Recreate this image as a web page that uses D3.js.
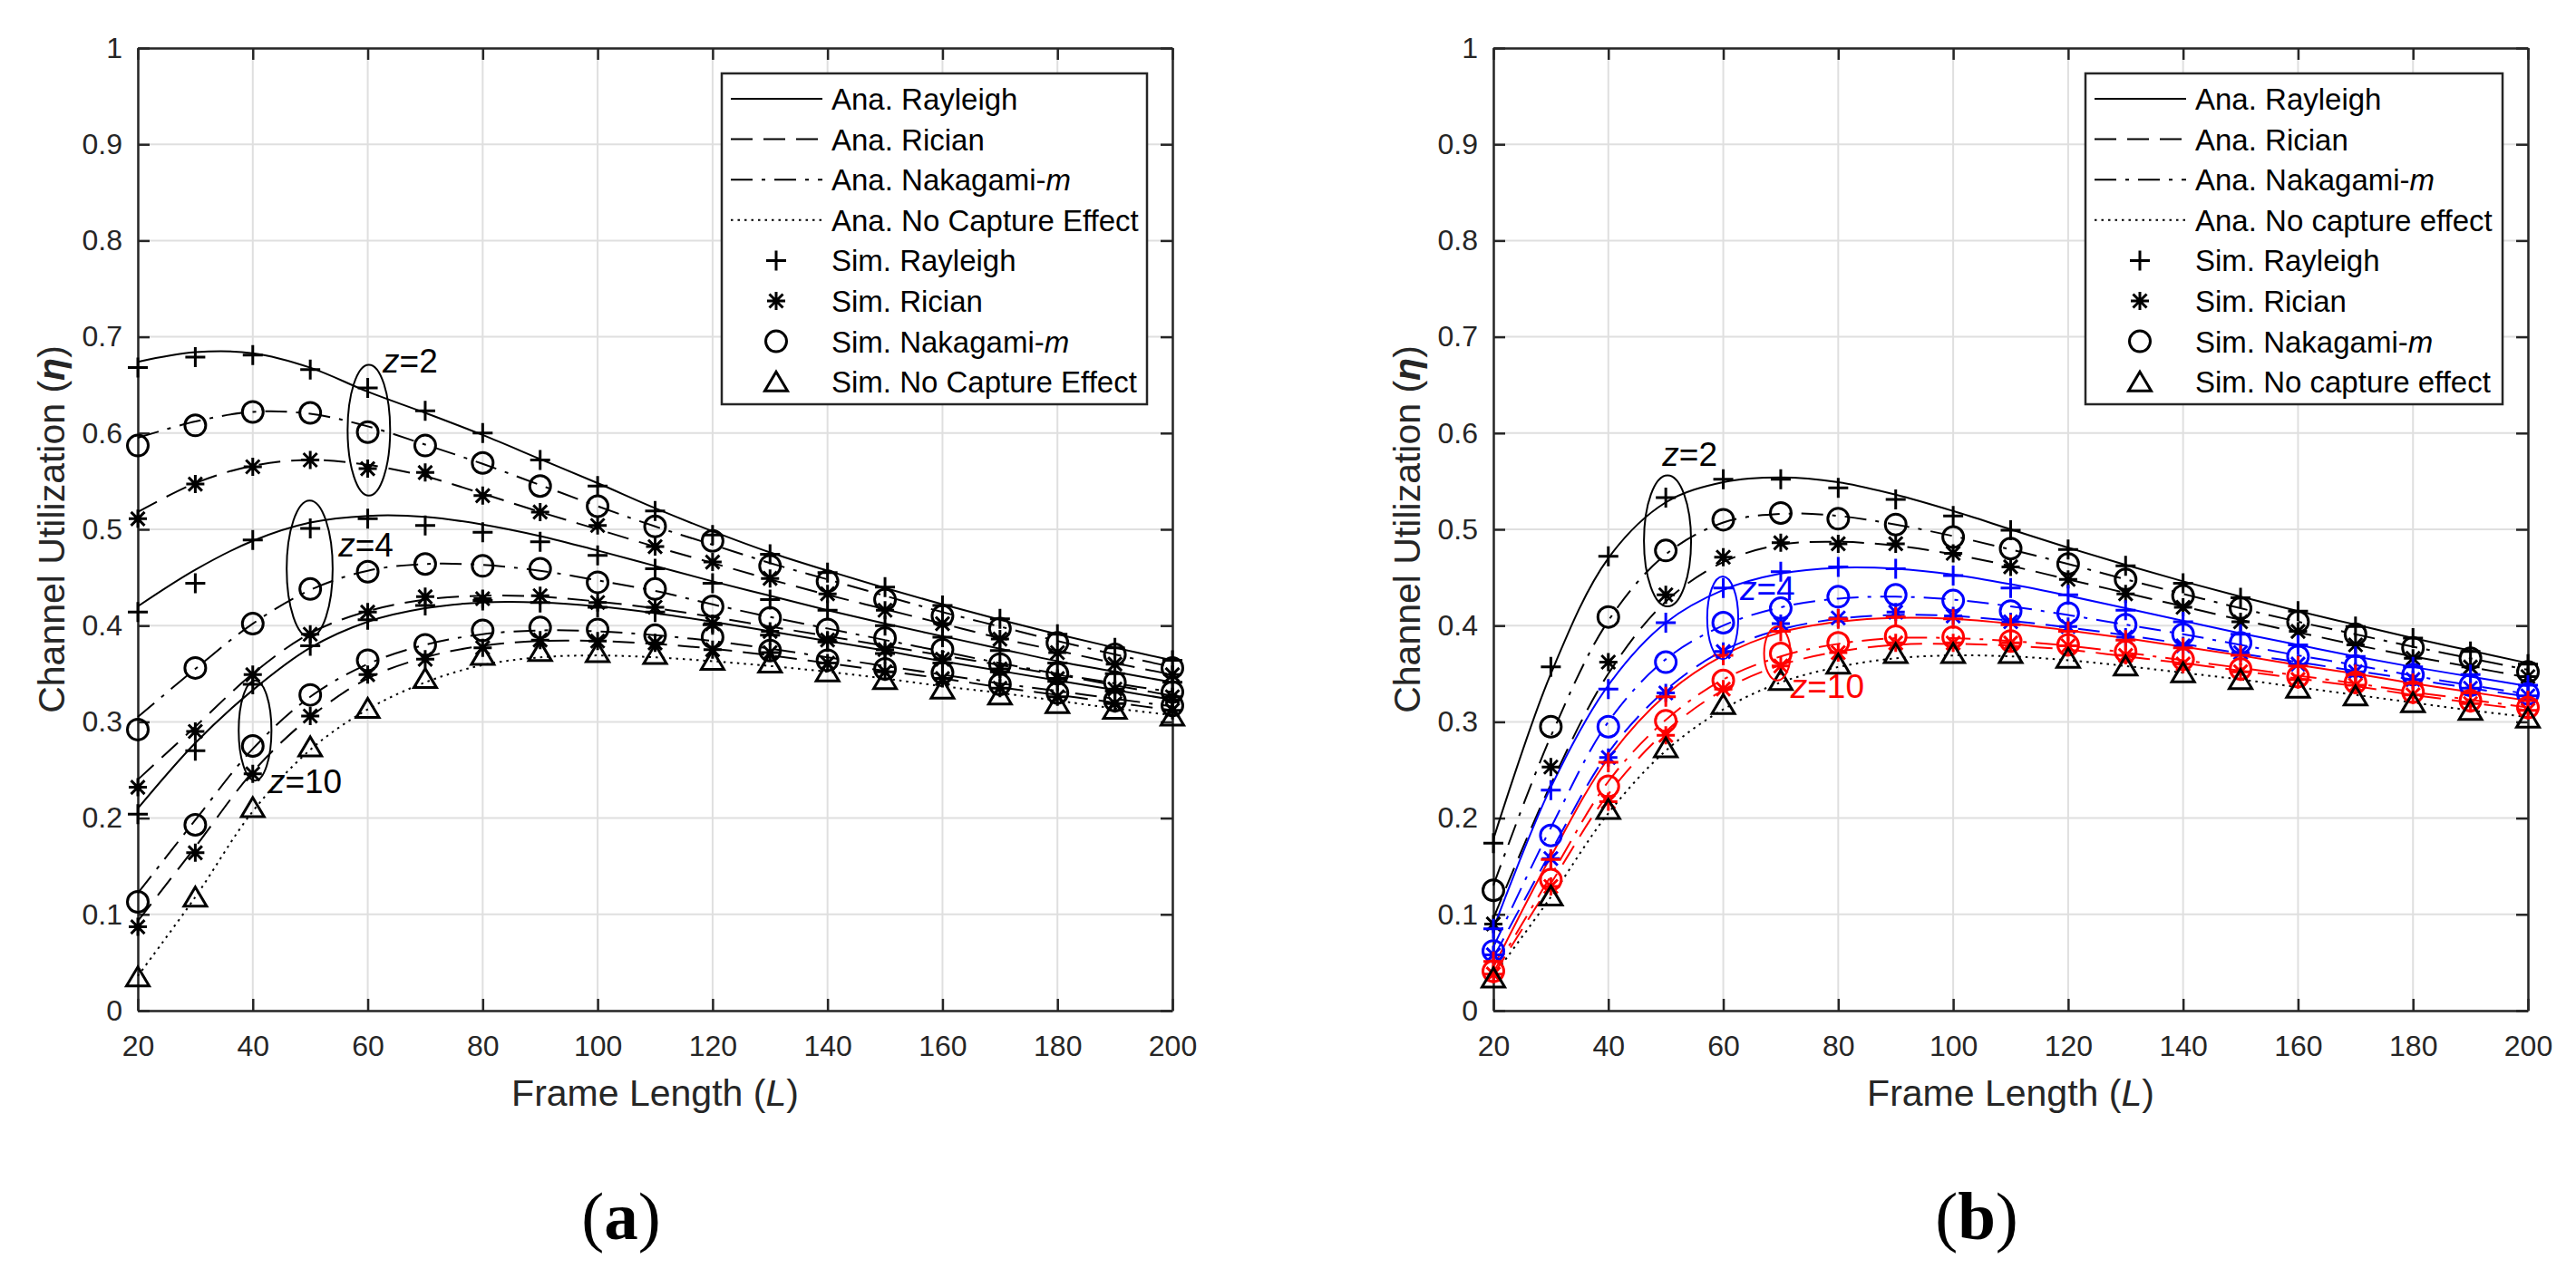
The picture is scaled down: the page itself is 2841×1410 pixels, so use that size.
<!DOCTYPE html>
<html>
<head>
<meta charset="utf-8">
<script src="https://cdn.jsdelivr.net/npm/d3@7/dist/d3.min.js"></script>
<style>
  body { margin: 0; background: #fff; }
  svg text { font-family: "Liberation Sans", Arial, Helvetica, sans-serif; }
</style>
</head>
<body>
<svg id="chart" width="2841" height="1410"></svg>
<script>
// ---- data ----
const frameLengths = [20, 30, 40, 50, 60, 70, 80, 90, 100, 110, 120, 130, 140, 150, 160, 170, 180, 190, 200];
const xTicks = [20, 40, 60, 80, 100, 120, 140, 160, 180, 200];
const yTicks = [0, 0.1, 0.2, 0.3, 0.4, 0.5, 0.6, 0.7, 0.8, 0.9, 1];

// panel (a)
const aZ2RayleighAna = [0.674, 0.684, 0.683, 0.668, 0.643, 0.621, 0.598, 0.573, 0.548, 0.522, 0.498, 0.476, 0.457, 0.439, 0.422, 0.406, 0.391, 0.377, 0.364];
const aZ2RayleighSim = [0.668, 0.679, 0.681, 0.666, 0.647, 0.623, 0.600, 0.572, 0.545, 0.519, 0.494, 0.474, 0.455, 0.440, 0.421, 0.407, 0.391, 0.377, 0.364];
const aZ2NakagamiAna = [0.595, 0.612, 0.622, 0.620, 0.607, 0.588, 0.568, 0.546, 0.524, 0.503, 0.484, 0.465, 0.448, 0.431, 0.414, 0.399, 0.384, 0.370, 0.357];
const aZ2NakagamiSim = [0.587, 0.608, 0.622, 0.621, 0.601, 0.587, 0.569, 0.545, 0.524, 0.503, 0.488, 0.462, 0.446, 0.427, 0.410, 0.397, 0.382, 0.370, 0.356];
const aZ2RicianAna = [0.518, 0.548, 0.566, 0.572, 0.567, 0.555, 0.537, 0.518, 0.500, 0.482, 0.465, 0.448, 0.432, 0.417, 0.402, 0.387, 0.374, 0.361, 0.349];
const aZ2RicianSim = [0.511, 0.547, 0.565, 0.572, 0.563, 0.559, 0.535, 0.518, 0.504, 0.482, 0.466, 0.449, 0.433, 0.416, 0.402, 0.386, 0.372, 0.360, 0.349];
const aZ4RayleighAna = [0.420, 0.458, 0.488, 0.507, 0.514, 0.513, 0.505, 0.493, 0.478, 0.462, 0.446, 0.431, 0.416, 0.402, 0.389, 0.376, 0.363, 0.352, 0.341];
const aZ4RayleighSim = [0.414, 0.444, 0.489, 0.501, 0.511, 0.504, 0.497, 0.487, 0.473, 0.459, 0.444, 0.427, 0.416, 0.400, 0.388, 0.374, 0.361, 0.350, 0.341];
const aZ4NakagamiAna = [0.305, 0.355, 0.402, 0.437, 0.457, 0.464, 0.463, 0.457, 0.447, 0.436, 0.422, 0.409, 0.397, 0.385, 0.373, 0.361, 0.350, 0.340, 0.331];
const aZ4NakagamiSim = [0.292, 0.356, 0.402, 0.438, 0.456, 0.464, 0.462, 0.459, 0.445, 0.438, 0.420, 0.408, 0.396, 0.387, 0.375, 0.360, 0.350, 0.341, 0.331];
const aZ4RicianAna = [0.240, 0.295, 0.350, 0.392, 0.415, 0.427, 0.431, 0.430, 0.425, 0.418, 0.409, 0.399, 0.389, 0.379, 0.369, 0.359, 0.349, 0.338, 0.327];
const aZ4RicianSim = [0.232, 0.290, 0.349, 0.391, 0.414, 0.430, 0.428, 0.431, 0.424, 0.419, 0.402, 0.394, 0.385, 0.375, 0.365, 0.355, 0.345, 0.334, 0.326];
const aZ10RayleighAna = [0.210, 0.278, 0.333, 0.377, 0.404, 0.418, 0.424, 0.424, 0.420, 0.413, 0.404, 0.394, 0.384, 0.374, 0.363, 0.353, 0.343, 0.333, 0.323];
const aZ10RayleighSim = [0.204, 0.270, 0.339, 0.379, 0.406, 0.421, 0.426, 0.424, 0.419, 0.414, 0.401, 0.390, 0.383, 0.371, 0.361, 0.352, 0.342, 0.332, 0.323];
const aZ10NakagamiAna = [0.122, 0.198, 0.272, 0.326, 0.360, 0.380, 0.391, 0.395, 0.394, 0.390, 0.384, 0.376, 0.367, 0.358, 0.349, 0.340, 0.332, 0.324, 0.316];
const aZ10NakagamiSim = [0.113, 0.193, 0.275, 0.328, 0.364, 0.380, 0.395, 0.398, 0.396, 0.390, 0.388, 0.374, 0.364, 0.355, 0.351, 0.339, 0.330, 0.322, 0.317];
const aZ10RicianAna = [0.093, 0.170, 0.248, 0.305, 0.345, 0.367, 0.379, 0.384, 0.384, 0.381, 0.376, 0.369, 0.361, 0.353, 0.345, 0.336, 0.328, 0.320, 0.312];
const aZ10RicianSim = [0.087, 0.164, 0.246, 0.306, 0.349, 0.365, 0.377, 0.385, 0.384, 0.382, 0.375, 0.372, 0.361, 0.352, 0.345, 0.335, 0.326, 0.319, 0.312];
const aNoCaptureAna = [0.036, 0.118, 0.207, 0.271, 0.313, 0.341, 0.359, 0.367, 0.369, 0.367, 0.363, 0.358, 0.352, 0.345, 0.337, 0.330, 0.322, 0.314, 0.307];
const aNoCaptureSim = [0.035, 0.118, 0.211, 0.274, 0.314, 0.345, 0.369, 0.373, 0.372, 0.370, 0.364, 0.361, 0.352, 0.344, 0.334, 0.328, 0.319, 0.313, 0.306];

// panel (b)
const bZ2RayleighAna = [0.178, 0.350, 0.470, 0.528, 0.549, 0.554, 0.549, 0.536, 0.519, 0.500, 0.481, 0.463, 0.446, 0.430, 0.415, 0.401, 0.387, 0.374, 0.361];
const bZ2RayleighSim = [0.174, 0.357, 0.472, 0.533, 0.552, 0.552, 0.543, 0.531, 0.514, 0.499, 0.479, 0.462, 0.444, 0.429, 0.415, 0.399, 0.387, 0.373, 0.360];
const bZ2NakagamiAna = [0.130, 0.285, 0.405, 0.474, 0.507, 0.516, 0.514, 0.505, 0.493, 0.479, 0.464, 0.448, 0.433, 0.418, 0.404, 0.391, 0.378, 0.366, 0.354];
const bZ2NakagamiSim = [0.125, 0.295, 0.409, 0.478, 0.510, 0.517, 0.511, 0.505, 0.492, 0.480, 0.464, 0.448, 0.431, 0.418, 0.404, 0.391, 0.377, 0.366, 0.352];
const bZ2RicianAna = [0.096, 0.235, 0.350, 0.425, 0.466, 0.484, 0.487, 0.483, 0.474, 0.462, 0.448, 0.434, 0.420, 0.406, 0.393, 0.380, 0.368, 0.357, 0.346];
const bZ2RicianSim = [0.090, 0.253, 0.362, 0.432, 0.471, 0.486, 0.485, 0.485, 0.475, 0.461, 0.448, 0.433, 0.419, 0.404, 0.394, 0.380, 0.366, 0.357, 0.347];
const bZ4RayleighAna = [0.085, 0.232, 0.338, 0.403, 0.437, 0.454, 0.460, 0.459, 0.453, 0.443, 0.431, 0.418, 0.405, 0.392, 0.380, 0.368, 0.357, 0.347, 0.337];
const bZ4RayleighSim = [0.085, 0.229, 0.334, 0.403, 0.439, 0.456, 0.461, 0.459, 0.452, 0.439, 0.432, 0.416, 0.404, 0.391, 0.380, 0.368, 0.357, 0.349, 0.338];
const bZ4NakagamiAna = [0.066, 0.190, 0.300, 0.365, 0.400, 0.419, 0.428, 0.430, 0.427, 0.420, 0.411, 0.401, 0.391, 0.380, 0.369, 0.359, 0.348, 0.338, 0.329];
const bZ4NakagamiSim = [0.062, 0.182, 0.295, 0.362, 0.403, 0.418, 0.430, 0.432, 0.426, 0.415, 0.413, 0.401, 0.391, 0.382, 0.368, 0.358, 0.349, 0.338, 0.329];
const bZ4RicianAna = [0.055, 0.165, 0.268, 0.333, 0.374, 0.396, 0.407, 0.411, 0.410, 0.405, 0.398, 0.390, 0.381, 0.371, 0.362, 0.353, 0.344, 0.335, 0.326];
const bZ4RicianSim = [0.058, 0.158, 0.263, 0.330, 0.373, 0.402, 0.408, 0.414, 0.410, 0.404, 0.399, 0.388, 0.379, 0.372, 0.360, 0.352, 0.344, 0.335, 0.327];
const bZ10RayleighAna = [0.045, 0.160, 0.262, 0.328, 0.369, 0.393, 0.404, 0.408, 0.407, 0.402, 0.395, 0.387, 0.378, 0.369, 0.359, 0.350, 0.340, 0.331, 0.322];
const bZ10RayleighSim = [0.051, 0.157, 0.258, 0.326, 0.369, 0.394, 0.407, 0.409, 0.407, 0.401, 0.394, 0.385, 0.377, 0.369, 0.358, 0.349, 0.340, 0.330, 0.322];
const bZ10NakagamiAna = [0.040, 0.140, 0.238, 0.302, 0.344, 0.368, 0.381, 0.387, 0.387, 0.384, 0.379, 0.372, 0.364, 0.356, 0.348, 0.340, 0.331, 0.323, 0.315];
const bZ10NakagamiSim = [0.041, 0.136, 0.233, 0.301, 0.343, 0.371, 0.382, 0.389, 0.388, 0.384, 0.380, 0.373, 0.365, 0.355, 0.347, 0.341, 0.331, 0.322, 0.315];
const bZ10RicianAna = [0.037, 0.132, 0.225, 0.290, 0.333, 0.359, 0.373, 0.380, 0.381, 0.379, 0.375, 0.368, 0.361, 0.353, 0.345, 0.337, 0.328, 0.320, 0.312];
const bZ10RicianSim = [0.038, 0.129, 0.217, 0.286, 0.334, 0.358, 0.372, 0.382, 0.382, 0.382, 0.379, 0.369, 0.360, 0.352, 0.344, 0.338, 0.328, 0.319, 0.312];
const bNoCaptureAna = [0.036, 0.118, 0.205, 0.270, 0.313, 0.341, 0.357, 0.366, 0.369, 0.368, 0.364, 0.358, 0.351, 0.344, 0.336, 0.328, 0.320, 0.312, 0.305];
const bNoCaptureSim = [0.034, 0.119, 0.209, 0.273, 0.318, 0.343, 0.360, 0.371, 0.371, 0.371, 0.366, 0.358, 0.351, 0.344, 0.335, 0.327, 0.320, 0.312, 0.304];

const legendLabelsA = ['Ana. Rayleigh', 'Ana. Rician', 'Ana. Nakagami-|m', 'Ana. No Capture Effect',
                       'Sim. Rayleigh', 'Sim. Rician', 'Sim. Nakagami-|m', 'Sim. No Capture Effect'];
const legendLabelsB = ['Ana. Rayleigh', 'Ana. Rician', 'Ana. Nakagami-|m', 'Ana. No capture effect',
                       'Sim. Rayleigh', 'Sim. Rician', 'Sim. Nakagami-|m', 'Sim. No capture effect'];

// ---- styles ----
const AXIS = '#262626';
const BLACK = '#000000', BLUE = '#0000ff', RED = '#ff0000';
const fading = {
    rayleigh: { dash: null, marker: 'plus' },
    rician: { dash: '24,12', marker: 'asterisk' },
    nakagami: { dash: '24,10,4,10', marker: 'circle' },
    none: { dash: '2.5,5', marker: 'triangle' }
};
const markerPath = {
    plus: 'M-11,0H11M0,-11V11',
    asterisk: 'M-10,0H10M0,-10V10M-7.5,-7.5L7.5,7.5M-7.5,7.5L7.5,-7.5',
    circle: d3.arc()({ innerRadius: 0, outerRadius: 11.5, startAngle: 0, endAngle: 2 * Math.PI }),
    triangle: 'M0,-11L12.5,10L-12.5,10Z'
};
const legendOrder = ['rayleigh', 'rician', 'nakagami', 'none'];

const svg = d3.select('#chart');

function richText(sel, str) {
    // "|" marks the start of an italic tail
    const parts = str.split('|');
    sel.append('tspan').text(parts[0]);
    if (parts.length > 1) {
        sel.append('tspan').attr('font-style', 'italic').text(parts[1]);
    }
}

function drawPanel(p) {
    const x = d3.scaleLinear().domain([20, 200]).range([p.left, p.left + 1141]);
    const y = d3.scaleLinear().domain([0, 1]).range([1115, 53]);
    const g = svg.append('g');

    // grid
    g.selectAll('.gx').data(xTicks).enter().append('line')
        .attr('x1', d => x(d)).attr('x2', d => x(d))
        .attr('y1', y(0)).attr('y2', y(1))
        .attr('stroke', '#dfdfdf').attr('stroke-width', 2);
    g.selectAll('.gy').data(yTicks).enter().append('line')
        .attr('x1', x(20)).attr('x2', x(200))
        .attr('y1', d => y(d)).attr('y2', d => y(d))
        .attr('stroke', '#dfdfdf').attr('stroke-width', 2);

    // axes (ticks pointing inward on all four sides)
    const yFmt = d => (d === 0 ? '0' : d === 1 ? '1' : d.toFixed(1));
    const axes = [
        g.append('g').attr('transform', `translate(0,${y(0)})`)
            .call(d3.axisBottom(x).tickValues(xTicks).tickSizeInner(-13).tickSizeOuter(0).tickPadding(27)),
        g.append('g').attr('transform', `translate(0,${y(1)})`)
            .call(d3.axisTop(x).tickValues(xTicks).tickSizeInner(-13).tickSizeOuter(0).tickFormat('')),
        g.append('g').attr('transform', `translate(${x(20)},0)`)
            .call(d3.axisLeft(y).tickValues(yTicks).tickSizeInner(-13).tickSizeOuter(0).tickPadding(17).tickFormat(yFmt)),
        g.append('g').attr('transform', `translate(${x(200)},0)`)
            .call(d3.axisRight(y).tickValues(yTicks).tickSizeInner(-13).tickSizeOuter(0).tickFormat(''))
    ];
    axes.forEach(a => {
        a.select('.domain').attr('stroke', AXIS).attr('stroke-width', 2.5);
        a.selectAll('.tick line').attr('stroke', AXIS).attr('stroke-width', 2.5);
        a.selectAll('.tick text').attr('fill', AXIS).style('font-size', '32px')
            .style('font-family', '"Liberation Sans", Arial, sans-serif');
    });

    // axis labels
    const xl = g.append('text')
        .attr('x', (x(20) + x(200)) / 2).attr('y', 1220)
        .attr('text-anchor', 'middle').attr('fill', AXIS).style('font-size', '41px');
    xl.append('tspan').text('Frame Length (');
    xl.append('tspan').attr('font-style', 'italic').text('L');
    xl.append('tspan').text(')');

    const yl = g.append('text')
        .attr('transform', `translate(${x(20) - 95},${(y(0) + y(1)) / 2}) rotate(-90)`)
        .attr('text-anchor', 'middle').attr('dy', '0.35em')
        .attr('fill', AXIS).style('font-size', '41px');
    yl.append('tspan').text('Channel Utilization (');
    yl.append('tspan').attr('font-style', 'italic').attr('font-weight', 'bold').text('\u03b7');
    yl.append('tspan').text(')');

    // analytical curves
    const line = d3.line()
        .x((d, i) => x(frameLengths[i]))
        .y(d => y(d))
        .curve(d3.curveCatmullRom.alpha(0.5));
    g.selectAll('.ana').data(p.series).enter().append('path')
        .attr('d', s => line(s.ana))
        .attr('fill', 'none')
        .attr('stroke', s => s.color)
        .attr('stroke-width', 2)
        .attr('stroke-dasharray', s => fading[s.fading].dash);

    // simulation markers
    p.series.forEach(s => {
        g.selectAll(null).data(s.sim).enter().append('path')
            .attr('transform', (d, i) => `translate(${x(frameLengths[i])},${y(d)})`)
            .attr('d', markerPath[fading[s.fading].marker])
            .attr('fill', 'none')
            .attr('stroke', s.color)
            .attr('stroke-width', 3);
    });

    // group annotations (ellipses + z labels), given in data units
    p.notes.forEach(n => {
        g.append('ellipse')
            .attr('cx', x(n.L)).attr('cy', y(n.v))
            .attr('rx', x(n.L + n.rL) - x(n.L)).attr('ry', y(n.v - n.rv) - y(n.v))
            .attr('fill', 'none').attr('stroke', n.color).attr('stroke-width', 2);
        const t = g.append('text')
            .attr('x', x(n.textL)).attr('y', y(n.textV))
            .attr('fill', n.color).style('font-size', '37px');
        t.append('tspan').attr('font-style', 'italic').text('z');
        t.append('tspan').text('=' + n.z);
    });

    // legend
    const lg = g.append('g').attr('transform', `translate(${p.legend.x},81)`);
    lg.append('rect').attr('width', p.legend.w).attr('height', 365)
        .attr('fill', '#fff').attr('stroke', AXIS).attr('stroke-width', 2.5);
    p.legendLabels.forEach((label, i) => {
        const cy = 28 + i * 44.6;
        const f = fading[legendOrder[i % 4]];
        if (i < 4) {
            lg.append('line').attr('x1', 10).attr('x2', 111).attr('y1', cy).attr('y2', cy)
                .attr('stroke', BLACK).attr('stroke-width', 2)
                .attr('stroke-dasharray', f.dash);
        } else {
            lg.append('path').attr('transform', `translate(60,${cy})`)
                .attr('d', markerPath[f.marker])
                .attr('fill', 'none').attr('stroke', BLACK).attr('stroke-width', 3);
        }
        const t = lg.append('text').attr('x', 121).attr('y', cy + 12)
            .attr('fill', BLACK).style('font-size', '33px');
        richText(t, label);
    });

    // caption
    const cap = svg.append('text')
        .attr('x', p.captionX).attr('y', 1367).attr('text-anchor', 'middle')
        .attr('fill', BLACK)
        .style('font-family', '"Liberation Serif", "Times New Roman", serif')
        .style('font-size', '75px');
    cap.append('tspan').text('(');
    cap.append('tspan').attr('font-weight', 'bold').text(p.caption);
    cap.append('tspan').text(')');
}

drawPanel({
    left: 152,
    caption: 'a', captionX: 685,
    legend: { x: 796, w: 469 },
    legendLabels: legendLabelsA,
    series: [
        { ana: aZ2RayleighAna, sim: aZ2RayleighSim, fading: 'rayleigh', color: BLACK },
        { ana: aZ2RicianAna, sim: aZ2RicianSim, fading: 'rician', color: BLACK },
        { ana: aZ2NakagamiAna, sim: aZ2NakagamiSim, fading: 'nakagami', color: BLACK },
        { ana: aZ4RayleighAna, sim: aZ4RayleighSim, fading: 'rayleigh', color: BLACK },
        { ana: aZ4RicianAna, sim: aZ4RicianSim, fading: 'rician', color: BLACK },
        { ana: aZ4NakagamiAna, sim: aZ4NakagamiSim, fading: 'nakagami', color: BLACK },
        { ana: aZ10RayleighAna, sim: aZ10RayleighSim, fading: 'rayleigh', color: BLACK },
        { ana: aZ10RicianAna, sim: aZ10RicianSim, fading: 'rician', color: BLACK },
        { ana: aZ10NakagamiAna, sim: aZ10NakagamiSim, fading: 'nakagami', color: BLACK },
        { ana: aNoCaptureAna, sim: aNoCaptureSim, fading: 'none', color: BLACK }
    ],
    notes: [
        { z: 2, L: 60.2, v: 0.603, rL: 3.7, rv: 0.068, textL: 62.6, textV: 0.663, color: BLACK },
        { z: 4, L: 49.9, v: 0.459, rL: 4.0, rv: 0.071, textL: 54.9, textV: 0.472, color: BLACK },
        { z: 10, L: 40.4, v: 0.291, rL: 2.85, rv: 0.052, textL: 42.7, textV: 0.226, color: BLACK }
    ]
});

drawPanel({
    left: 1647,
    caption: 'b', captionX: 2180,
    legend: { x: 2300, w: 460 },
    legendLabels: legendLabelsB,
    series: [
        { ana: bZ2RayleighAna, sim: bZ2RayleighSim, fading: 'rayleigh', color: BLACK },
        { ana: bZ2RicianAna, sim: bZ2RicianSim, fading: 'rician', color: BLACK },
        { ana: bZ2NakagamiAna, sim: bZ2NakagamiSim, fading: 'nakagami', color: BLACK },
        { ana: bZ4RayleighAna, sim: bZ4RayleighSim, fading: 'rayleigh', color: BLUE },
        { ana: bZ4RicianAna, sim: bZ4RicianSim, fading: 'rician', color: BLUE },
        { ana: bZ4NakagamiAna, sim: bZ4NakagamiSim, fading: 'nakagami', color: BLUE },
        { ana: bZ10RayleighAna, sim: bZ10RayleighSim, fading: 'rayleigh', color: RED },
        { ana: bZ10RicianAna, sim: bZ10RicianSim, fading: 'rician', color: RED },
        { ana: bZ10NakagamiAna, sim: bZ10NakagamiSim, fading: 'nakagami', color: RED },
        { ana: bNoCaptureAna, sim: bNoCaptureSim, fading: 'none', color: BLACK }
    ],
    notes: [
        { z: 2, L: 50.3, v: 0.488, rL: 4.1, rv: 0.068, textL: 49.4, textV: 0.566, color: BLACK },
        { z: 4, L: 59.9, v: 0.408, rL: 2.7, rv: 0.043, textL: 62.9, textV: 0.427, color: BLUE },
        { z: 10, L: 69.4, v: 0.371, rL: 2.3, rv: 0.028, textL: 71.7, textV: 0.325, color: RED }
    ]
});
</script>
</body>
</html>
